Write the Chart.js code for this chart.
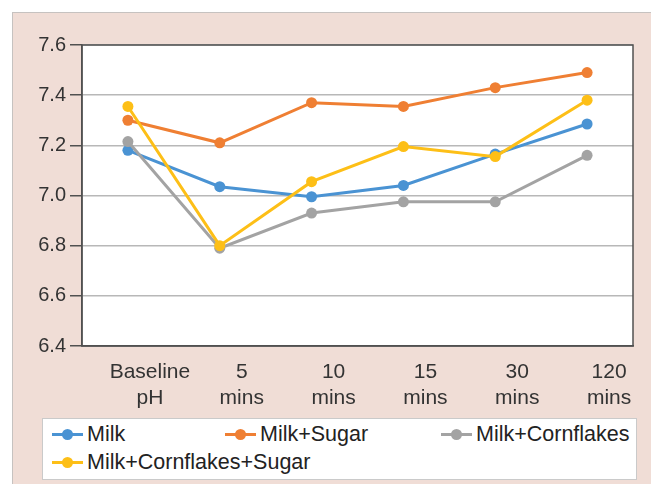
<!DOCTYPE html>
<html lang="en">
<head>
  <meta charset="UTF-8">
  <title>pH over time</title>
  <script src="https://cdn.jsdelivr.net/npm/chart.js"></script>
  <style>
    body {
      margin: 0;
      background: #fff;
      font-family: 'Liberation Sans', Arial, sans-serif;
    }

    .wrap {
      position: relative;
      width: 651px;
      height: 484px;
      overflow: hidden;
    }

    .panel {
      position: absolute;
      left: 12px;
      top: 12px;
      right: 0;
      bottom: 0;
      background: #f0ddd6;
      border-top: 1px solid #c6c2c0;
      border-left: 1px solid #c6c2c0;
    }

    canvas {
      position: absolute;
      left: 0;
      top: 0;
    }

    .legend {
      position: absolute;
      left: 42px;
      top: 418px;
      width: 595px;
      height: 62px;
      box-sizing: border-box;
      background: #fff;
      border: 1.5px solid #cacaca;
      padding: 1px 0 0 9px;
      display: grid;
      grid-template-columns: 173px 216px auto;
      grid-auto-rows: 28px;
      font-size: 21.5px;
      color: #222;
    }

    .legend .item {
      display: flex;
      align-items: center;
      white-space: nowrap;
    }

    .legend .mk {
      position: relative;
      flex-shrink: 0;
      width: 31px;
      height: 3px;
      margin-right: 4px;
    }

    .legend .mk span {
      position: absolute;
      left: 10px;
      top: -4px;
      width: 11px;
      height: 11px;
      border-radius: 50%;
    }
  </style>
</head>
<body>
  <div class="wrap">
    <div class="panel"></div>
    <canvas id="phChart" width="651" height="484"></canvas>
    <div class="legend" id="legend"></div>
  </div>

  <script>
    const categories = [['Baseline', 'pH'], ['5', 'mins'], ['10', 'mins'], ['15', 'mins'], ['30', 'mins'], ['120', 'mins']];

    const milk = [7.18, 7.035, 6.995, 7.04, 7.165, 7.285];
    const milkSugar = [7.30, 7.21, 7.37, 7.355, 7.43, 7.49];
    const milkCornflakes = [7.215, 6.79, 6.93, 6.975, 6.975, 7.16];
    const milkCornflakesSugar = [7.355, 6.80, 7.055, 7.195, 7.155, 7.38];

    const yTicks = [6.4, 6.6, 6.8, 7.0, 7.2, 7.4, 7.6];

    const series = [
      { label: 'Milk', data: milk, color: '#4a93d3', order: 4 },
      { label: 'Milk+Sugar', data: milkSugar, color: '#ef7f33', order: 3 },
      { label: 'Milk+Cornflakes', data: milkCornflakes, color: '#a3a3a3', order: 2 },
      { label: 'Milk+Cornflakes+Sugar', data: milkCornflakesSugar, color: '#fdbf17', order: 1 }
    ];

    // white plot area and the box round it
    const frame = {
      id: 'frame',
      beforeDraw(chart) {
        const { ctx, chartArea: a } = chart;
        ctx.save();
        ctx.fillStyle = '#fff';
        ctx.fillRect(a.left, a.top, a.right - a.left, a.bottom - a.top);
        ctx.restore();
      },
      beforeDatasetsDraw(chart) {
        const { ctx, chartArea: a } = chart;
        ctx.save();
        ctx.strokeStyle = '#505050';
        ctx.lineWidth = 1.5;
        ctx.strokeRect(a.left, a.top, a.right - a.left, a.bottom - a.top);
        ctx.restore();
      }
    };

    const chart = new Chart(document.getElementById('phChart'), {
      type: 'line',
      data: {
        labels: categories,
        datasets: series.map(s => ({
          label: s.label,
          data: s.data,
          order: s.order,
          borderColor: s.color,
          backgroundColor: s.color,
          pointBackgroundColor: s.color,
          pointBorderWidth: 0,
          pointRadius: 5.5,
          borderWidth: 3,
          tension: 0,
          fill: false
        }))
      },
      options: {
        responsive: false,
        devicePixelRatio: 1,
        animation: false,
        layout: { padding: { left: 0, top: 45, right: 18, bottom: 74 } },
        plugins: {
          legend: { display: false },
          tooltip: { enabled: false }
        },
        scales: {
          x: {
            offset: true,
            grid: { display: false },
            border: { color: '#505050', width: 1.5 },
            ticks: {
              color: '#333',
              font: { family: 'Liberation Sans', size: 21, lineHeight: 1.25 },
              padding: 5,
              labelOffset: 22,
              maxRotation: 0,
              autoSkip: false
            },
            afterFit(s) { s.height = 64; }
          },
          y: {
            min: 6.4,
            max: 7.6,
            afterBuildTicks(s) { s.ticks = yTicks.map(v => ({ value: v })); },
            grid: { color: '#b8b8b8', lineWidth: 1.5, tickLength: 12, tickColor: '#505050' },
            border: { color: '#505050', width: 1.5 },
            ticks: {
              color: '#333',
              font: { family: 'Liberation Sans', size: 20 },
              padding: 4,
              callback: v => v.toFixed(1)
            },
            afterFit(s) { s.width = 82; }
          }
        }
      },
      plugins: [frame]
    });

    // legend box, built from the datasets
    const legend = document.getElementById('legend');
    series.forEach(s => {
      const item = document.createElement('div');
      item.className = 'item';
      const mk = document.createElement('div');
      mk.className = 'mk';
      mk.style.background = s.color;
      const dot = document.createElement('span');
      dot.style.background = s.color;
      mk.appendChild(dot);
      item.appendChild(mk);
      item.appendChild(document.createTextNode(s.label));
      legend.appendChild(item);
    });
  </script>
</body>
</html>
